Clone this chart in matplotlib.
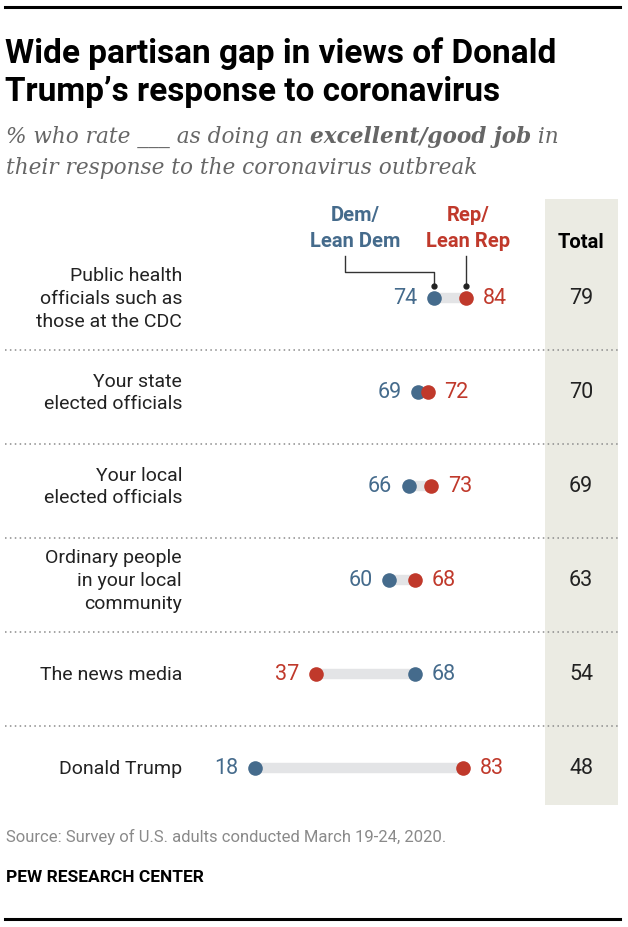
import matplotlib
matplotlib.use("Agg")
import matplotlib.pyplot as plt
from matplotlib.patches import Rectangle

# data
items = [
    "Public health\nofficials such as\nthose at the CDC",
    "Your state\nelected officials",
    "Your local\nelected officials",
    "Ordinary people\nin your local\ncommunity",
    "The news media",
    "Donald Trump",
]
dem = [74, 69, 66, 60, 68, 18]
rep = [84, 72, 73, 68, 37, 83]
total = [79, 70, 69, 63, 54, 48]

BLUE = "#456b8c"
RED = "#c0392b"
GRAY_BAR = "#e3e4e6"
SHADE = "#ebebe3"
TXT = "#222222"

W, H = 628, 928
SANS = ["Roboto", "DejaVu Sans"]
BOLD = ["Roboto", "DejaVu Sans"]
SERIF = ["DejaVu Serif"]

# pixel mapping for the value scale / row positions
X0, XS = 197.4, 3.2      # px at value 0, px per point
Y0, YS = 299, 94         # px of first row, px per row


def px(x, y):
    return x / W, 1 - y / H


fig = plt.figure(figsize=(W / 100, H / 100), dpi=100)
ax = fig.add_axes([0, 0, 1, 1])
ax.set_xlim(-X0 / XS, (W - X0) / XS)
ax.set_ylim((H - Y0) / YS, -Y0 / YS)
ax.axis("off")

# total column shading
ax.add_patch(Rectangle(px(545, 806), 73 / W, 606 / H, transform=fig.transFigure,
                       color=SHADE, zorder=0, lw=0))

# rules
fig.add_artist(plt.Line2D([5 / W, 620 / W], [1 - 8 / H] * 2, color="black", lw=2.2))
fig.add_artist(plt.Line2D([5 / W, 620 / W], [1 - 920 / H] * 2, color="black", lw=2.2))

# title
fig.text(*px(5, 63), "Wide partisan gap in views of Donald", family=BOLD, weight="bold",
         size=24, va="baseline", color="black")
fig.text(*px(5, 101), "Trump\u2019s response to coronavirus", family=BOLD, weight="bold",
         size=24, va="baseline", color="black")

# subtitle in pieces
sub_parts = [
    ("% who rate ___ as doing an ", "normal"),
    ("excellent/good job", "bold"),
    (" in", "normal"),
]
fig.canvas.draw()
renderer = fig.canvas.get_renderer()
xpos = 6
for s, wt in sub_parts:
    t = fig.text(*px(xpos, 143), s, family=SERIF, style="italic", weight=wt,
                 size=15.6, color="#666666", va="baseline")
    xpos += t.get_window_extent(renderer).width
fig.text(*px(6, 174), "their response to the coronavirus outbreak", family=SERIF,
         style="italic", size=15.6, color="#666666", va="baseline")

rows = range(len(items))

# dividers
for i in rows:
    if i < len(items) - 1:
        ax.plot([5 / W, 618 / W], [1 - (Y0 + YS * (i + 0.55)) / H] * 2, transform=fig.transFigure,
                color="#8a8a8a", lw=1.1, ls=(0, (1, 2.2)), zorder=1)

for i in rows:
    lo, hi = min(dem[i], rep[i]), max(dem[i], rep[i])
    ax.plot([lo, hi], [i, i], color=GRAY_BAR, lw=7.5, solid_capstyle="butt", zorder=2)
    ax.plot(dem[i], i, "o", color=BLUE, ms=10.5, mec="none", zorder=3)
    ax.plot(rep[i], i, "o", color=RED, ms=10.5, mec="none", zorder=4)
    for v, c in ((dem[i], BLUE), (rep[i], RED)):
        left = v == lo and v != hi or (v == lo and c == BLUE)
        ax.annotate(str(v), (v, i), xytext=(-12 if left else 12, 0), textcoords="offset points",
                    ha="right" if left else "left", va="center", color=c, size=15.5, family=SANS)
    ax.text(182 / W, 1 - (Y0 + YS * i) / H, items[i], transform=fig.transFigure, ha="right",
            va="center", ma="right", size=14, family=SANS, color=TXT, linespacing=1.33)
    ax.text(581 / W, 1 - (Y0 + YS * i) / H, str(total[i]), transform=fig.transFigure,
            ha="center", va="center", size=15.5, family=SANS, color=TXT)

# column headers
fig.text(*px(355, 221), "Dem/", ha="center", va="baseline", family=BOLD,
         weight="bold", size=14.5, color=BLUE)
fig.text(*px(355, 247), "Lean Dem", ha="center", va="baseline", family=BOLD,
         weight="bold", size=14.5, color=BLUE)
fig.text(*px(468, 221), "Rep/", ha="center", va="baseline", family=BOLD,
         weight="bold", size=14.5, color=RED)
fig.text(*px(468, 247), "Lean Rep", ha="center", va="baseline", family=BOLD,
         weight="bold", size=14.5, color=RED)
fig.text(*px(581, 248), "Total", ha="center", va="baseline", family=BOLD,
         weight="bold", size=14.5, color="black")

# connectors to first row dots
fx = lambda v: (X0 + XS * v) / W
ax.plot([345 / W, 345 / W, fx(dem[0]), fx(dem[0])],
        [1 - 257 / H, 1 - 273 / H, 1 - 273 / H, 1 - 287 / H],
        transform=fig.transFigure, color="#333333", lw=1)
ax.plot([fx(rep[0]), fx(rep[0])], [1 - 257 / H, 1 - 287 / H],
        transform=fig.transFigure, color="#333333", lw=1)
ax.plot([fx(dem[0]), fx(rep[0])], [1 - 287 / H] * 2, "o", ms=3.5, color="#222222",
        transform=fig.transFigure)

# footer
fig.text(*px(6, 842), "Source: Survey of U.S. adults conducted March 19-24, 2020.",
         family=SANS, size=12, color="#8a8a8a", va="baseline")
fig.text(*px(6, 882), "PEW RESEARCH CENTER", family=BOLD, weight="bold",
         size=12.5, color="black", va="baseline")

fig.savefig("out.png", dpi=100)
